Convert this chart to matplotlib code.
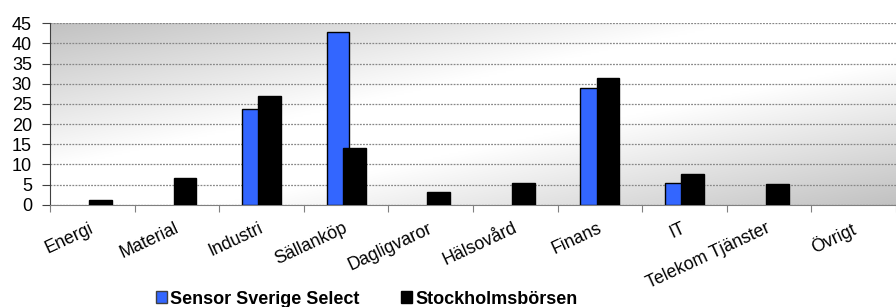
import numpy as np
import matplotlib
matplotlib.use("Agg")
import matplotlib.pyplot as plt
import matplotlib.transforms as mtransforms
from matplotlib.patches import Patch

categories = ["Energi", "Material", "Industri", "Sällanköp", "Dagligvaror",
              "Hälsovård", "Finans", "IT", "Telekom Tjänster", "Övrigt"]
sensor = [0, 0, 23.7, 42.8, 0, 0, 28.9, 5.4, 0, 0]
stockholm = [1.2, 6.5, 27.0, 14.1, 3.1, 5.5, 31.4, 7.6, 5.1, 0]
series_names = ["Sensor Sverige Select", "Stockholmsbörsen"]
yticks = [0, 5, 10, 15, 20, 25, 30, 35, 40, 45]

plt.rcParams['font.family'] = ['Liberation Sans', 'DejaVu Sans']

fig = plt.figure(figsize=(8.96, 3.07), dpi=100)
ax = fig.add_axes([50/896, 1-204.7/307, 1-50/896, (204.7-23.3)/307])

# gradient background
nx, ny = 300, 100
xs = np.linspace(0, 1, nx)
ys = np.linspace(1, 0, ny)
X, Y = np.meshgrid(xs, ys)
u = (X + (1 - Y)) / 2
t = 1 - np.abs(2*u - 1)
g0 = 0.76
val = g0 + (1 - g0) * np.clip(t*1.25, 0, 1)
img = np.dstack([val, val, val])
ax.imshow(img, extent=[0, 1, 0, 1], transform=ax.transAxes, aspect='auto',
          zorder=0, interpolation='bilinear')

n = len(categories)
x = np.arange(n)
w = 0.27
off = 0.095
s_vals = np.array(sensor, dtype=float)
k_vals = np.array(stockholm, dtype=float)
s_vals[s_vals == 0] = np.nan
k_vals[k_vals == 0] = np.nan
ax.bar(x - off, s_vals, width=w, color='#3366FF', edgecolor='black', linewidth=1, zorder=2)
ax.bar(x + off, k_vals, width=w, color='black', edgecolor='black', linewidth=1, zorder=3)

ax.set_xlim(-0.5, n - 0.5)
ax.set_ylim(0, 45)
ax.tick_params(axis='y', length=6, color='#404040', direction='out', pad=7, labelsize=13)
ax.set_yticks(yticks)
ax.set_yticklabels([str(v) for v in yticks])
ax.yaxis.grid(True, linestyle=(0, (1.5, 1)), color='#888888', linewidth=0.9)
ax.set_axisbelow(True)

ax.tick_params(axis='x', which='major', length=5, color='#808080', direction='out')
ax.set_xticks(np.arange(n + 1) - 0.5)
ax.set_xticklabels([])

# category labels, rotated, right end at category centre
trans = mtransforms.blended_transform_factory(ax.transData, ax.transAxes)
trans = trans + mtransforms.ScaledTranslation(-3/100, -15/100, fig.dpi_scale_trans)
for xi, lab in zip(x, categories):
    ax.text(xi, 0, lab, transform=trans, rotation=25, rotation_mode='anchor',
            ha='right', va='top', fontsize=12.8, clip_on=False)

for s in ['top', 'right']:
    ax.spines[s].set_visible(False)
ax.spines['left'].set_color('#404040')
ax.spines['bottom'].set_color('#808080')

handles = [Patch(facecolor='#3366FF', edgecolor='#404040', label=series_names[0]),
           Patch(facecolor='black', edgecolor='black', label=series_names[1])]
leg = fig.legend(handles=handles, loc='center', bbox_to_anchor=(367/896, 1-299/307),
                 ncol=2, frameon=False, prop={'weight': 'bold', 'size': 13},
                 handlelength=0.6, handleheight=0.6, handletextpad=0.2,
                 columnspacing=2.3, borderaxespad=0, borderpad=0)

fig.savefig("out.png", dpi=100)
